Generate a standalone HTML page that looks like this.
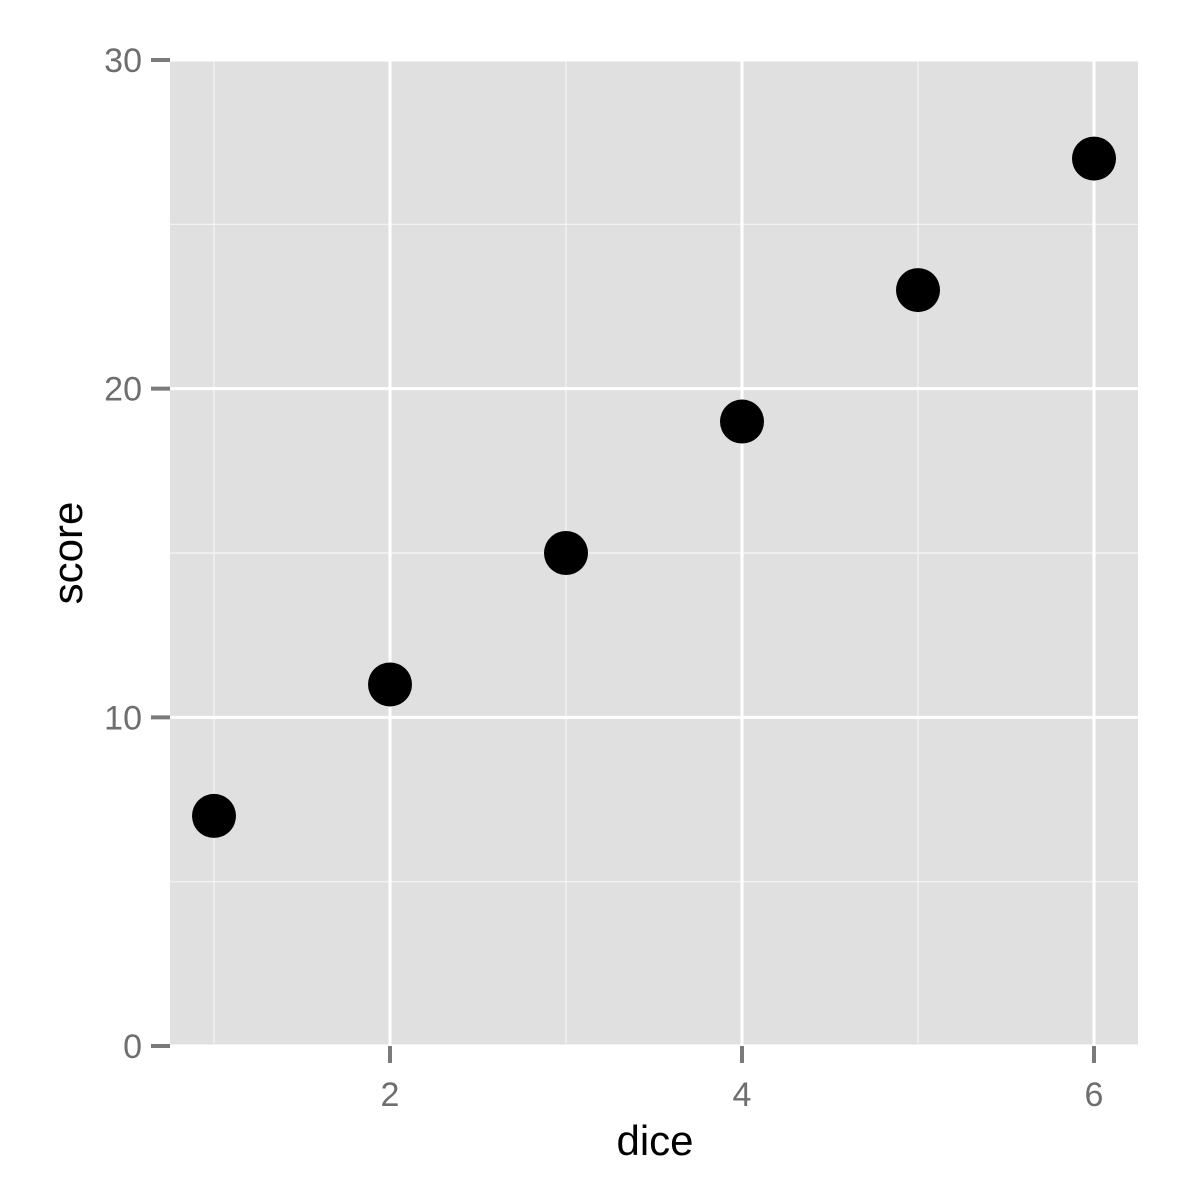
<!DOCTYPE html>
<html><head><meta charset="utf-8"><style>
html,body{margin:0;padding:0;background:#fff;}
svg{display:block;font-family:"Liberation Sans",Arial,sans-serif;}
</style></head><body>
<svg id="chart" width="1200" height="1200">
<rect x="170" y="60" width="968" height="986" fill="#e0e0e0"/>
<g id="grid"></g><g id="axes"></g><g id="points"></g>
<text x="655" y="1155" font-size="42" text-anchor="middle" fill="#000">dice</text>
<text x="0" y="0" font-size="42" text-anchor="middle" fill="#000" transform="translate(82,553) rotate(-90)">score</text>
</svg>
<script>
const diceValues=[1,2,3,4,5,6];
const scoreValues=[7,11,15,19,23,27];
const xMajorTicks=[2,4,6];
const xMinorTicks=[1,3,5];
const yMajorTicks=[0,10,20,30];
const yMinorTicks=[5,15,25];
const X0=170,X1=1138,Y0=1046,Y1=60;
const xMin=0.75,xMax=6.25,yMin=0,yMax=30;
function sx(v){return X0+(v-xMin)/(xMax-xMin)*(X1-X0);}
function sy(v){return Y0-(v-yMin)/(yMax-yMin)*(Y0-Y1);}
const NS="http://www.w3.org/2000/svg";
function mk(t,a,p){const e=document.createElementNS(NS,t);for(const k in a)e.setAttribute(k,a[k]);p.appendChild(e);return e;}
const g=document.getElementById('grid'),ax=document.getElementById('axes'),pt=document.getElementById('points');
xMinorTicks.forEach(v=>{const e=mk('line',{x1:sx(v),x2:sx(v),y1:Y1,y2:Y0,stroke:'#f2f2f2','stroke-width':1.4},g);

});
yMinorTicks.forEach(v=>{const e=mk('line',{x1:X0,x2:X1,y1:sy(v),y2:sy(v),stroke:'#f2f2f2','stroke-width':1.4},g);

});
xMajorTicks.forEach(v=>{const e=mk('line',{x1:sx(v),x2:sx(v),y1:Y1,y2:Y0,stroke:'#fff','stroke-width':3},g);


const t=mk('line',{x1:sx(v),x2:sx(v),y1:Y0,y2:Y0+17,stroke:'#7a7a7a','stroke-width':4},ax);


const l=mk('text',{x:sx(v),y:1106,'font-size':34,'text-anchor':'middle',fill:'#6e6e6e'},ax);l.textContent=v;

});
yMajorTicks.forEach(v=>{const e=mk('line',{x1:X0,x2:X1,y1:sy(v),y2:sy(v),stroke:'#fff','stroke-width':3},g);


const t=mk('line',{x1:151,x2:X0,y1:sy(v),y2:sy(v),stroke:'#7a7a7a','stroke-width':4},ax);


const l=mk('text',{x:142,y:sy(v)+12,'font-size':34,'text-anchor':'end',fill:'#6e6e6e'},ax);l.textContent=v;

});
diceValues.forEach((d,i)=>{const c=mk('circle',{cx:sx(d),cy:sy(scoreValues[i]),r:22,fill:'#000'},pt);

});
</script>
</body></html>
